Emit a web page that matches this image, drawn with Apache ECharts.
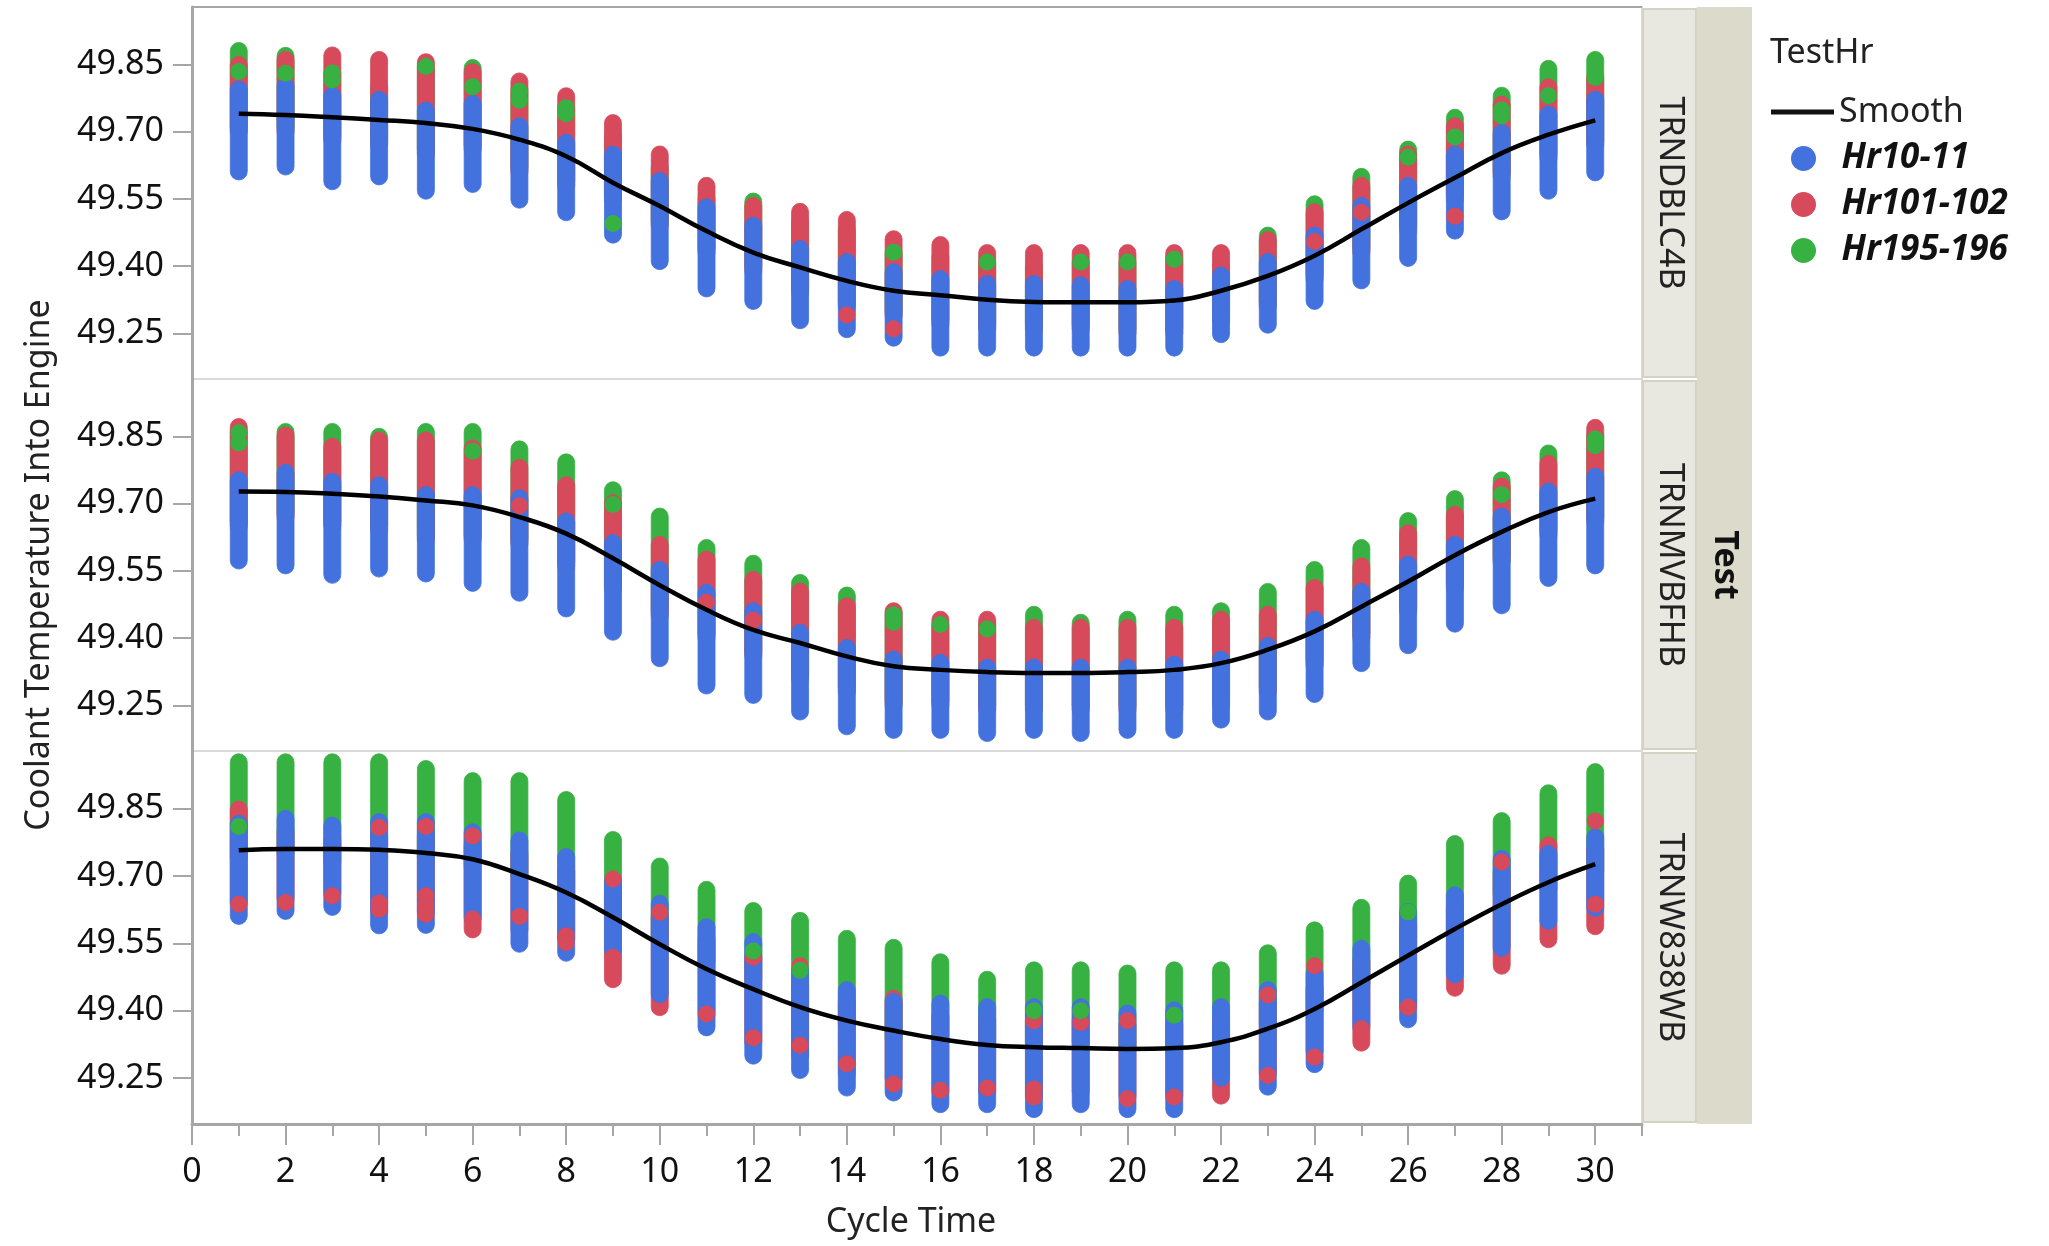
<!DOCTYPE html>
<html>
<head>
<meta charset="utf-8">
<script src="https://cdn.jsdelivr.net/npm/echarts@6.0.0/dist/echarts.min.js"></script>
<style>
  html, body { margin: 0; padding: 0; background: #ffffff; }
  #chart { width: 2049px; height: 1246px; }
</style>
</head>
<body>
<div id="chart"></div>
<script>
// ---------------- DATA ----------------
const cycles = [1,2,3,4,5,6,7,8,9,10,11,12,13,14,15,16,17,18,19,20,21,22,23,24,25,26,27,28,29,30];
const panelNames = ['TRNDBLC4B', 'TRNMVBFHB', 'TRNW838WB'];
const groupNames = ['Hr10-11', 'Hr101-102', 'Hr195-196'];
const yTicks = [49.25, 49.40, 49.55, 49.70, 49.85];
const xMajorTicks = [0,2,4,6,8,10,12,14,16,18,20,22,24,26,28,30];
const xMinorTicks = [1,3,5,7,9,11,13,15,17,19,21,23,25,27,29,31];

// Panel 1 : TRNDBLC4B  (column extents of dot centres per cycle time)
const p1BlueHi  = [49.794,49.801,49.780,49.771,49.747,49.762,49.712,49.675,49.649,49.590,49.531,49.490,49.438,49.409,49.386,49.371,49.360,49.360,49.357,49.349,49.349,49.379,49.409,49.468,49.534,49.579,49.649,49.697,49.738,49.771];
const p1BlueLo  = [49.611,49.622,49.589,49.600,49.568,49.583,49.548,49.520,49.470,49.411,49.350,49.322,49.279,49.259,49.240,49.218,49.218,49.218,49.218,49.218,49.218,49.248,49.269,49.322,49.368,49.418,49.479,49.522,49.568,49.609];
const p1RedHi   = [49.849,49.860,49.870,49.860,49.855,49.833,49.812,49.779,49.719,49.649,49.579,49.534,49.521,49.503,49.460,49.447,49.429,49.429,49.429,49.429,49.429,49.429,49.458,49.520,49.579,49.649,49.712,49.760,49.799,49.820];
const p1RedLo   = [49.70,49.70,49.68,49.67,49.65,49.66,49.61,49.58,49.55,49.49,49.43,49.39,49.34,49.31,49.29,49.27,49.26,49.26,49.26,49.25,49.25,49.28,49.31,49.37,49.43,49.48,49.55,49.60,49.64,49.67];
const p1GreenHi = [49.880,49.869,49.831,49.800,49.846,49.842,49.794,49.753,49.690,49.620,49.550,49.544,49.500,49.480,49.431,49.420,49.409,49.400,49.409,49.409,49.420,49.400,49.468,49.538,49.599,49.660,49.731,49.780,49.840,49.860];
const p1GreenLo = [49.71,49.71,49.69,49.68,49.66,49.67,49.62,49.59,49.56,49.50,49.44,49.40,49.35,49.32,49.30,49.28,49.27,49.27,49.27,49.26,49.26,49.29,49.32,49.38,49.44,49.49,49.56,49.61,49.65,49.68];
const p1Smooth  = [49.740,49.737,49.732,49.726,49.719,49.706,49.682,49.645,49.586,49.534,49.478,49.430,49.397,49.367,49.345,49.335,49.325,49.320,49.319,49.319,49.323,49.345,49.378,49.423,49.482,49.541,49.597,49.652,49.693,49.725];
// single dots drawn over the columns: [cycle, value, group]
const p1Specks  = [[1,49.834,2],[2,49.830,2],[3,49.831,2],[3,49.815,2],[5,49.845,2],[6,49.800,2],[7,49.790,2],[7,49.770,2],[8,49.753,2],[8,49.740,2],[9,49.495,2],[15,49.431,2],[17,49.409,2],[19,49.409,2],[20,49.409,2],[21,49.415,2],[26,49.643,2],[27,49.688,2],[28,49.748,2],[28,49.735,2],[29,49.780,2],[30,49.821,2],[14,49.291,1],[15,49.260,1],[24,49.455,1],[25,49.520,1],[27,49.511,1]];

// Panel 2 : TRNMVBFHB
const p2BlueHi  = [49.752,49.769,49.749,49.741,49.719,49.719,49.712,49.660,49.612,49.552,49.501,49.460,49.412,49.378,49.352,49.345,49.334,49.334,49.334,49.334,49.341,49.352,49.382,49.441,49.503,49.564,49.608,49.671,49.727,49.760];
const p2BlueLo  = [49.573,49.562,49.541,49.555,49.544,49.523,49.501,49.466,49.414,49.355,49.294,49.273,49.236,49.203,49.195,49.195,49.188,49.195,49.188,49.195,49.195,49.218,49.236,49.275,49.344,49.384,49.432,49.473,49.534,49.562];
const p2RedHi   = [49.871,49.852,49.827,49.841,49.841,49.823,49.780,49.741,49.701,49.608,49.575,49.530,49.504,49.471,49.460,49.441,49.441,49.423,49.423,49.423,49.423,49.441,49.452,49.512,49.560,49.634,49.675,49.738,49.789,49.869];
const p2RedLo   = [49.65,49.67,49.65,49.64,49.62,49.62,49.61,49.56,49.51,49.45,49.40,49.36,49.31,49.28,49.25,49.25,49.24,49.24,49.24,49.24,49.24,49.25,49.28,49.34,49.40,49.46,49.51,49.57,49.63,49.66];
const p2GreenHi = [49.860,49.860,49.860,49.849,49.860,49.860,49.821,49.792,49.730,49.671,49.601,49.566,49.523,49.495,49.455,49.430,49.430,49.452,49.434,49.441,49.452,49.460,49.503,49.552,49.601,49.661,49.710,49.752,49.812,49.852];
const p2GreenLo = [49.66,49.68,49.66,49.65,49.63,49.63,49.62,49.57,49.52,49.46,49.41,49.37,49.32,49.29,49.26,49.26,49.25,49.25,49.25,49.25,49.25,49.26,49.29,49.35,49.41,49.47,49.52,49.58,49.64,49.67];
const p2Smooth  = [49.727,49.726,49.722,49.716,49.707,49.696,49.670,49.633,49.578,49.518,49.463,49.418,49.389,49.359,49.337,49.329,49.324,49.322,49.322,49.324,49.329,49.344,49.374,49.415,49.470,49.526,49.585,49.637,49.681,49.711];
const p2Specks  = [[1,49.858,2],[1,49.835,2],[6,49.817,2],[9,49.698,2],[15,49.452,2],[15,49.435,2],[16,49.430,2],[17,49.420,2],[28,49.720,2],[30,49.844,2],[30,49.829,2],[7,49.695,1],[11,49.480,1],[12,49.440,1]];

// Panel 3 : TRNW838WB
const p3BlueHi  = [49.816,49.827,49.812,49.820,49.820,49.797,49.779,49.742,49.690,49.638,49.586,49.553,49.490,49.446,49.420,49.416,49.408,49.408,49.408,49.394,49.401,49.408,49.446,49.483,49.538,49.620,49.657,49.738,49.749,49.786];
const p3BlueLo  = [49.611,49.622,49.631,49.590,49.591,49.607,49.549,49.529,49.533,49.437,49.363,49.300,49.268,49.229,49.218,49.192,49.192,49.181,49.192,49.181,49.181,49.251,49.231,49.281,49.363,49.381,49.481,49.540,49.600,49.629];
const p3RedHi   = [49.848,49.80,49.78,49.79,49.79,49.77,49.75,49.71,49.66,49.61,49.56,49.52,49.46,49.42,49.427,49.39,49.38,49.38,49.38,49.37,49.37,49.38,49.42,49.45,49.51,49.59,49.63,49.71,49.768,49.76];
const p3RedLo   = [49.64,49.65,49.66,49.62,49.62,49.581,49.58,49.56,49.470,49.408,49.39,49.33,49.30,49.26,49.25,49.22,49.22,49.21,49.22,49.21,49.21,49.211,49.26,49.31,49.329,49.41,49.451,49.500,49.559,49.588];
const p3GreenHi = [49.953,49.953,49.953,49.953,49.938,49.911,49.911,49.869,49.780,49.721,49.669,49.622,49.600,49.560,49.540,49.508,49.469,49.490,49.490,49.483,49.490,49.490,49.528,49.579,49.629,49.683,49.771,49.822,49.884,49.931];
const p3GreenLo = [49.74,49.75,49.73,49.74,49.74,49.72,49.70,49.66,49.61,49.56,49.51,49.47,49.41,49.37,49.34,49.34,49.33,49.33,49.33,49.32,49.32,49.33,49.37,49.40,49.46,49.54,49.58,49.66,49.67,49.71];
const p3Smooth  = [49.757,49.760,49.760,49.758,49.751,49.737,49.704,49.663,49.608,49.548,49.493,49.448,49.408,49.378,49.356,49.337,49.324,49.319,49.317,49.315,49.317,49.330,49.360,49.404,49.463,49.523,49.582,49.637,49.686,49.726];
const p3Specks  = [[1,49.637,1],[2,49.641,1],[3,49.656,1],[4,49.808,1],[4,49.640,1],[4,49.626,1],[5,49.810,1],[5,49.656,1],[5,49.634,1],[5,49.615,1],[6,49.789,1],[6,49.604,1],[7,49.610,1],[8,49.567,1],[8,49.552,1],[9,49.693,1],[9,49.519,1],[10,49.619,1],[11,49.393,1],[12,49.519,1],[12,49.340,1],[13,49.500,1],[13,49.323,1],[14,49.282,1],[15,49.237,1],[16,49.223,1],[17,49.228,1],[18,49.378,1],[18,49.226,1],[18,49.208,1],[19,49.374,1],[20,49.378,1],[20,49.204,1],[21,49.208,1],[23,49.435,1],[23,49.256,1],[24,49.500,1],[24,49.297,1],[25,49.360,1],[26,49.408,1],[28,49.731,1],[30,49.822,1],[30,49.637,1],[1,49.810,2],[12,49.533,2],[13,49.490,2],[18,49.400,2],[19,49.400,2],[21,49.390,2],[26,49.620,2]];

// ---------------- STYLE / LAYOUT ----------------
const FONT = '"Noto Sans", "Open Sans", "DejaVu Sans", sans-serif';
const COLORS = ['#4371DE', '#D64A5B', '#38B143'];
const DOT = 17;
const PLOT_L = 192, PLOT_W = 1450;
const GRID_TOPS = [7, 379, 751];
const GRID_H = [372, 372, 373];
const Y_MIN = 49.148, Y_MAX = 49.978;
const AXIS_GRAY = '#A6A6A6';

const panels = [
  { hi: [p1BlueHi, p1RedHi, p1GreenHi], lo: [p1BlueLo, p1RedLo, p1GreenLo], smooth: p1Smooth, specks: p1Specks },
  { hi: [p2BlueHi, p2RedHi, p2GreenHi], lo: [p2BlueLo, p2RedLo, p2GreenLo], smooth: p2Smooth, specks: p2Specks },
  { hi: [p3BlueHi, p3RedHi, p3GreenHi], lo: [p3BlueLo, p3RedLo, p3GreenLo], smooth: p3Smooth, specks: p3Specks }
];

function capsuleRender(color) {
  return function (params, api) {
    const x = api.value(0);
    const top = api.coord([x, api.value(2)]);
    const bot = api.coord([x, api.value(1)]);
    const r = DOT / 2;
    return {
      type: 'rect',
      shape: { x: top[0] - r, y: top[1] - r, width: DOT, height: (bot[1] - top[1]) + DOT, r: r },
      style: { fill: color, stroke: color, lineWidth: 0.8, opacity: 1 }
    };
  };
}

const grids = [], xAxes = [], yAxes = [], series = [];
for (let p = 0; p < 3; p++) {
  grids.push({ left: PLOT_L, top: GRID_TOPS[p], width: PLOT_W, height: GRID_H[p], show: true,
               borderColor: '#DADADA', borderWidth: 2, backgroundColor: '#ffffff' });
  const isBottom = p === 2;
  xAxes.push({
    gridIndex: p, type: 'value', min: 0, max: 31, position: 'bottom',
    axisLine: { show: isBottom, onZero: false, lineStyle: { color: AXIS_GRAY, width: 3 } },
    axisTick: { show: isBottom, customValues: xMajorTicks, length: 21, lineStyle: { color: AXIS_GRAY, width: 2 } },
    axisLabel: { show: isBottom, customValues: xMajorTicks, fontSize: 34, fontFamily: FONT, color: '#111', margin: 31 },
    splitLine: { show: false }
  });
  yAxes.push({
    gridIndex: p, type: 'value', min: Y_MIN, max: Y_MAX, position: 'left',
    axisLine: { show: true, onZero: false, lineStyle: { color: AXIS_GRAY, width: 3 } },
    axisTick: { show: true, customValues: yTicks, length: 19, lineStyle: { color: AXIS_GRAY, width: 2 } },
    axisLabel: { customValues: yTicks, formatter: v => Number(v).toFixed(2), fontSize: 34, fontFamily: FONT, color: '#111', margin: 28 },
    splitLine: { show: false }
  });
}
// minor ticks on the bottom axis
xAxes.push({
  gridIndex: 2, type: 'value', min: 0, max: 31, position: 'bottom',
  axisLine: { show: false, onZero: false },
  axisTick: { show: true, customValues: xMinorTicks, length: 12, lineStyle: { color: AXIS_GRAY, width: 2 } },
  axisLabel: { show: false },
  splitLine: { show: false }
});

for (let p = 0; p < 3; p++) {
  const P = panels[p];
  // draw order: green, red, blue (blue on top)
  [2, 1, 0].forEach((g, k) => {
    series.push({
      type: 'custom', name: groupNames[g], xAxisIndex: p, yAxisIndex: p,
      data: cycles.map((c, i) => [c, P.lo[g][i], P.hi[g][i]]),
      encode: { x: 0, y: [1, 2] },
      renderItem: capsuleRender(COLORS[g]),
      itemStyle: { color: COLORS[g] },
      z: 2 + k, silent: true
    });
  });
  [0, 1, 2].forEach(g => {
    series.push({
      type: 'scatter', name: groupNames[g], xAxisIndex: p, yAxisIndex: p,
      data: P.specks.filter(s => s[2] === g).map(s => [s[0], s[1]]),
      symbol: 'circle', symbolSize: DOT,
      itemStyle: { color: COLORS[g], opacity: 1 },
      z: 6, silent: true
    });
  });
  series.push({
    type: 'line', name: 'Smooth', xAxisIndex: p, yAxisIndex: p,
    data: cycles.map((c, i) => [c, P.smooth[i]]),
    smooth: 0.45, symbol: 'none', showSymbol: false,
    lineStyle: { color: '#000000', width: 4.5 },
    itemStyle: { color: '#000000' },
    z: 8, silent: true
  });
}

// strips, titles, legend heading
const STRIP_X = 1642, STRIP_W = 55, OUTER_X = 1697, OUTER_W = 55;
const graphics = [
  { type: 'rect', shape: { x: OUTER_X, y: 7, width: OUTER_W, height: 1117 }, style: { fill: '#DBDACB' }, z: 1 },
  { type: 'text', x: OUTER_X + OUTER_W / 2, y: 565, rotation: -Math.PI / 2,
    style: { text: 'Test', font: 'bold 34px ' + FONT, fill: '#111', align: 'center', verticalAlign: 'middle' }, z: 3 },
  { type: 'line', shape: { x1: PLOT_L, y1: 7, x2: STRIP_X, y2: 7 }, style: { stroke: AXIS_GRAY, lineWidth: 2 }, z: 5 },
  { type: 'text', x: 39, y: 565, rotation: Math.PI / 2,
    style: { text: 'Coolant Temperature Into Engine', font: '34px ' + FONT, fill: '#222', align: 'center', verticalAlign: 'middle' }, z: 3 },
  { type: 'text', x: 911, y: 1222,
    style: { text: 'Cycle Time', font: '34px ' + FONT, fill: '#222', align: 'center', verticalAlign: 'middle' }, z: 3 },
  { type: 'text', x: 1770, y: 53,
    style: { text: 'TestHr', font: '34px ' + FONT, fill: '#222', align: 'left', verticalAlign: 'middle' }, z: 3 }
];
for (let p = 0; p < 3; p++) {
  graphics.push({ type: 'rect', shape: { x: STRIP_X + 1, y: GRID_TOPS[p] + 2, width: STRIP_W - 2, height: GRID_H[p] - 4 },
    style: { fill: '#E8E8E0', stroke: '#D3D2C3', lineWidth: 2 }, z: 2 });
  graphics.push({ type: 'text', x: STRIP_X + STRIP_W / 2, y: GRID_TOPS[p] + GRID_H[p] / 2, rotation: -Math.PI / 2,
    style: { text: panelNames[p], font: '34px ' + FONT, fill: '#222', align: 'center', verticalAlign: 'middle' }, z: 3 });
}

const chart = echarts.init(document.getElementById('chart'), null, { renderer: 'canvas' });
chart.setOption({
  backgroundColor: '#ffffff',
  animation: false,
  grid: grids,
  xAxis: xAxes,
  yAxis: yAxes,
  legend: [
    { data: ['Smooth'], left: 1766, top: 90, itemWidth: 63, itemHeight: 5, icon: 'rect', selectedMode: false,
      itemStyle: { color: '#111111' },
      textStyle: { fontSize: 34, fontFamily: FONT, color: '#222' } },
    { data: groupNames, orient: 'vertical', left: 1786, top: 136, itemWidth: 50, itemHeight: 25, itemGap: 11,
      icon: 'circle', selectedMode: false,
      textStyle: { fontSize: 35, fontFamily: FONT, fontWeight: 'bold', fontStyle: 'italic', color: '#111', padding: [0, 0, 0, 8] } }
  ],
  graphic: graphics,
  series: series
});
</script>
</body>
</html>
